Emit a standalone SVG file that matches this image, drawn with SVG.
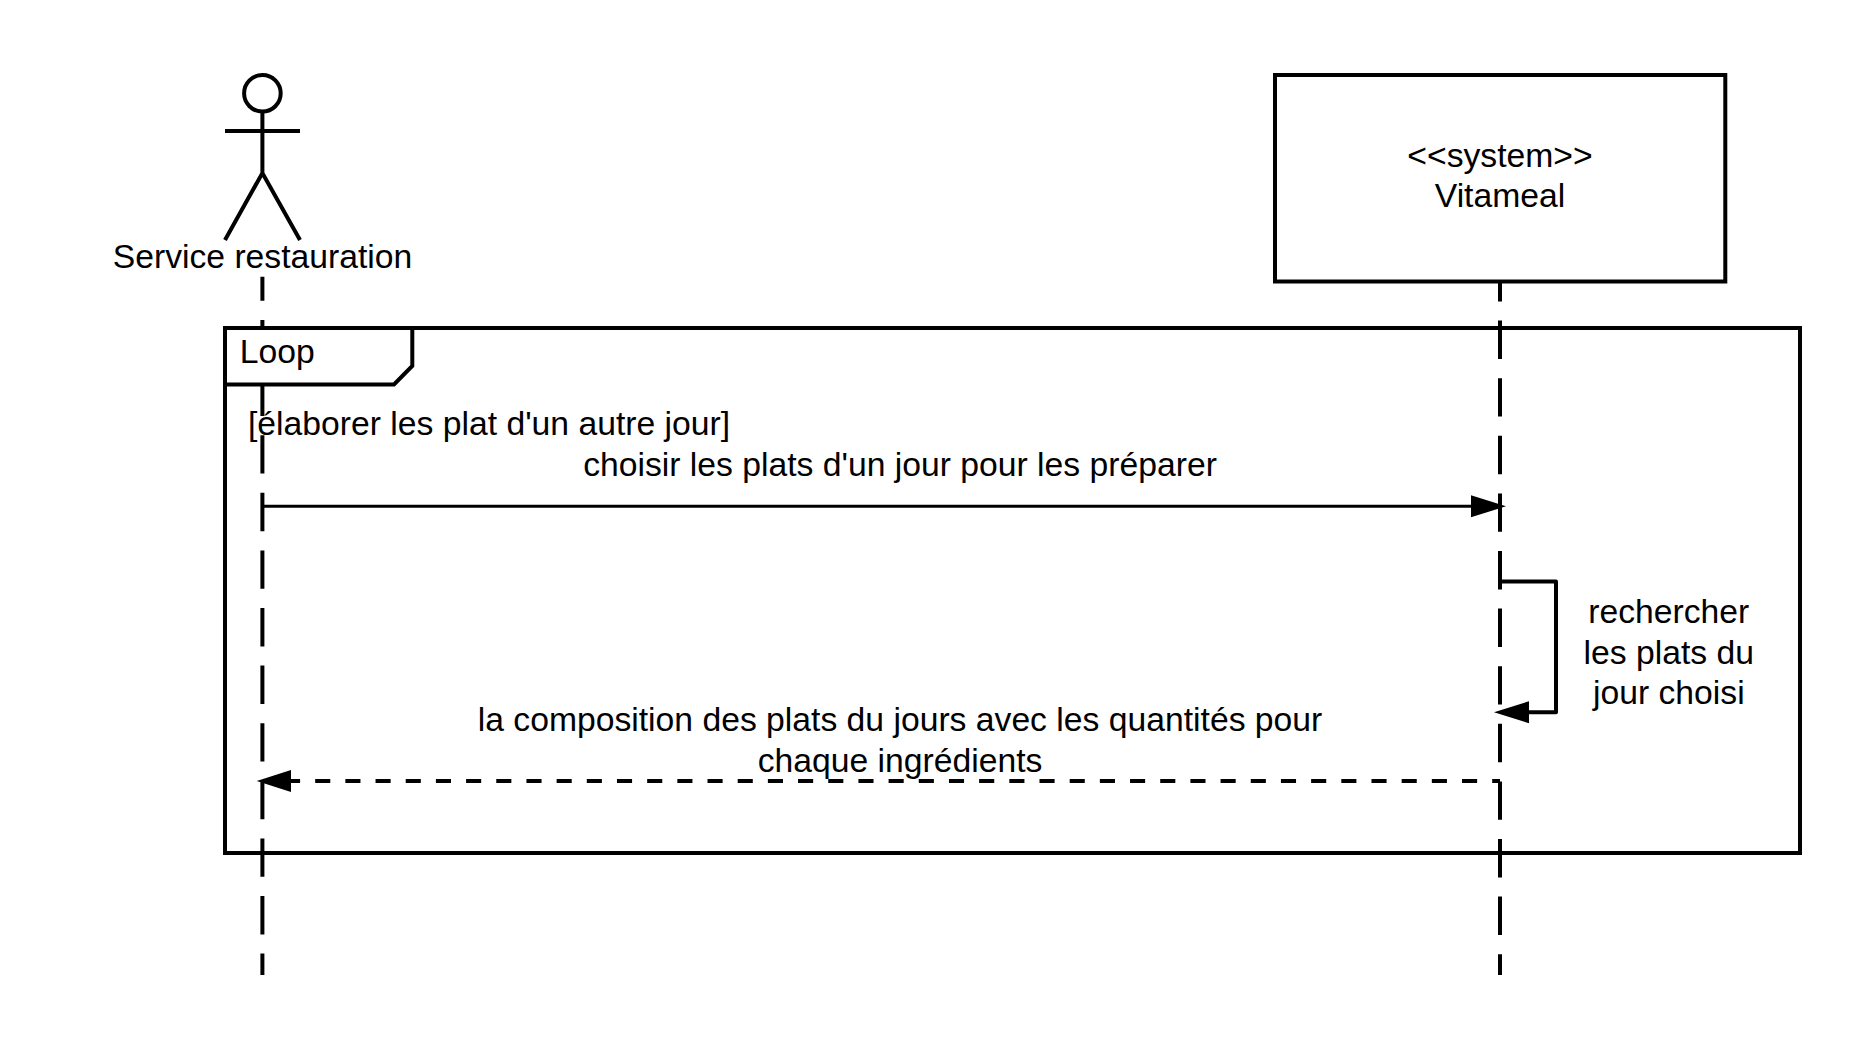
<svg xmlns="http://www.w3.org/2000/svg" width="1875" height="1050" viewBox="0 0 1875 1050">
<style>
text{font-family:"Liberation Sans",Arial,sans-serif;font-size:33.7px;fill:#000}
.m{text-anchor:middle}
.s{fill:none;stroke:#000;stroke-width:4}
.life{fill:none;stroke:#000;stroke-width:4;stroke-dasharray:38.4 19.2}
.msg{fill:none;stroke:#000;stroke-width:3}
.self{fill:none;stroke:#000;stroke-width:4;stroke-linejoin:round}
.ret{fill:none;stroke:#000;stroke-width:4;stroke-dasharray:15.1 15.08}
</style>
<rect width="1875" height="1050" fill="#fff"/>
<g id="connectors">
<path class="life" d="M262.4 276.7V975" stroke-dashoffset="14.3"/>
<path class="life" d="M1500 281V975" stroke-dashoffset="18"/>
</g>
<g id="actor">
<circle class="s" cx="262.400" cy="93.300" r="18.300"/>
<path class="s" d="M262.400 111V173M225 131H300M225 240L262.400 173L300 240"/>
<text class="m" x="262.500" y="268.300">Service restauration</text>
</g>
<g id="system">
<rect class="s" x="1275" y="75" width="450.300" height="206.500"/>
<text class="m" x="1500" y="167">&lt;&lt;system&gt;&gt;</text>
<text class="m" x="1500" y="206.700">Vitameal</text>
</g>
<g id="loop">
<rect class="s" x="225" y="328" width="1575" height="525"/>
<path d="M225 328H412.300V366L394 384.500H225Z" fill="#fff" stroke="#000" stroke-width="4"/>
<text x="239.800" y="362.700">Loop</text>
<text x="248" y="435">[élaborer les plat d'un autre jour]</text>
</g>
<g id="messages">
<path class="msg" d="M262.400 506.300H1476"/>
<path d="M1506 506.300L1471 495.300V517.300Z"/>
<text class="m" x="900" y="475.800">choisir les plats d'un jour pour les préparer</text>
<path class="self" d="M1500 581.500H1556V712.300H1525"/>
<path d="M1494 712.300L1529 701.300V723.300Z"/>
<text class="m" x="1668.800" y="623">rechercher</text>
<text class="m" x="1668.800" y="663.500">les plats du</text>
<text class="m" x="1668.800" y="704">jour choisi</text>
<path class="ret" d="M285 781H1500"/>
<path d="M256.700 781L291 770V792Z"/>
<text class="m" x="900" y="730.600">la composition des plats du jours avec les quantités pour</text>
<text class="m" x="900" y="771.600">chaque ingrédients</text>
</g>
</svg>
